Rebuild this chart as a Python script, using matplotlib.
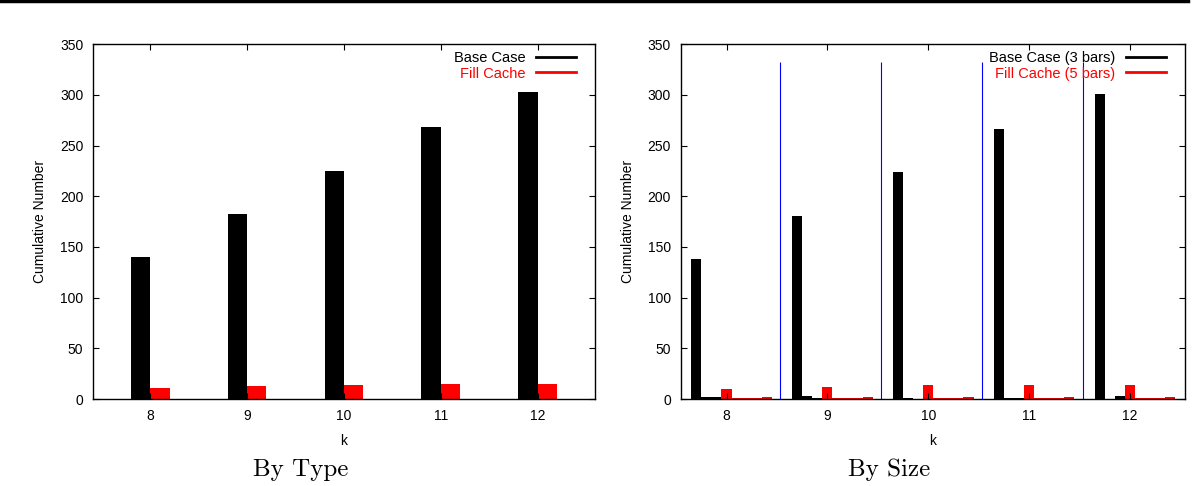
import numpy as np
import matplotlib.pyplot as plt
from matplotlib.lines import Line2D

k = [8, 9, 10, 11, 12]

# By Type
type_base = [140, 183, 225, 268, 303]
type_fill = [11, 13, 14, 15, 15]

# By Size: 3 base-case bars and 5 fill-cache bars per k
size_base = [
    [138, 181, 224, 266, 301],
    [1.5, 2.5, 1.0, 1.0, 0.3],
    [1.5, 0.5, 0.3, 1.0, 2.5],
]
size_fill = [
    [10, 12, 13.5, 14, 14],
    [0.5, 0.5, 0.5, 0.5, 0.5],
    [0.5, 0.5, 0.5, 0.5, 0.5],
    [0.5, 0.5, 0.5, 0.5, 0.5],
    [2.0, 1.5, 1.5, 1.5, 1.5],
]
separators = [8.535, 9.535, 10.535, 11.535]
sep_top = 332

label_font = dict(family='Liberation Sans', size=10)


def style_axes(ax):
    ax.set_ylim(0, 350)
    ax.set_yticks(np.arange(0, 351, 50))
    ax.set_xticks(k)
    ax.tick_params(direction='in', top=True, right=True, length=4,
                   width=0.8, labelsize=10, pad=7)
    for lab in ax.get_xticklabels() + ax.get_yticklabels():
        lab.set_fontfamily('Liberation Sans')
    for sp in ax.spines.values():
        sp.set_linewidth(1.0)
    ax.set_xlabel('k', fontdict=label_font, labelpad=8)
    ax.set_ylabel('Cumulative Number', fontdict=label_font, labelpad=9)


def add_legend(ax, labels):
    handles = [Line2D([], [], color='black', lw=2),
               Line2D([], [], color='red', lw=2)]
    leg = ax.legend(handles, labels, loc='upper right', frameon=False,
                    markerfirst=False, prop={'family': 'Liberation Sans', 'size': 10.5},
                    handlelength=2.8, handletextpad=0.7, labelspacing=0.12,
                    borderaxespad=0.0, bbox_to_anchor=(0.975, 0.998))
    leg.get_texts()[1].set_color('red')


fig = plt.figure(figsize=(11.92, 4.86), dpi=100)

ax1 = fig.add_axes([0.078, 0.179, 0.421, 0.730])
x = np.array(k, dtype=float)
ax1.bar(x - 0.1, type_base, width=0.2, color='black')
ax1.bar(x + 0.1, type_fill, width=0.2, color='red')
ax1.set_xlim(7.41, 12.59)
style_axes(ax1)
add_legend(ax1, ['Base Case', 'Fill Cache'])

ax2 = fig.add_axes([0.571, 0.179, 0.423, 0.730])
w = 0.1
for j, vals in enumerate(size_base):
    ax2.bar(x - 0.3 + w * j, vals, width=w, color='black')
for j, vals in enumerate(size_fill):
    ax2.bar(x - 0.3 + w * (j + 3), vals, width=w, color='red')
ax2.vlines(separators, 0, sep_top, color='blue', lw=0.8)
ax2.set_xlim(7.545, 12.545)
style_axes(ax2)
add_legend(ax2, ['Base Case (3 bars)', 'Fill Cache (5 bars)'])

fig.text(0.252, 0.02, 'By Type', family='cmr10', size=18, ha='center')
fig.text(0.746, 0.02, 'By Size', family='cmr10', size=18, ha='center')
fig.add_artist(Line2D([0, 0.997], [0.997, 0.997], color='black', lw=2.5,
                      transform=fig.transFigure))

fig.savefig('out.png', dpi=100)
